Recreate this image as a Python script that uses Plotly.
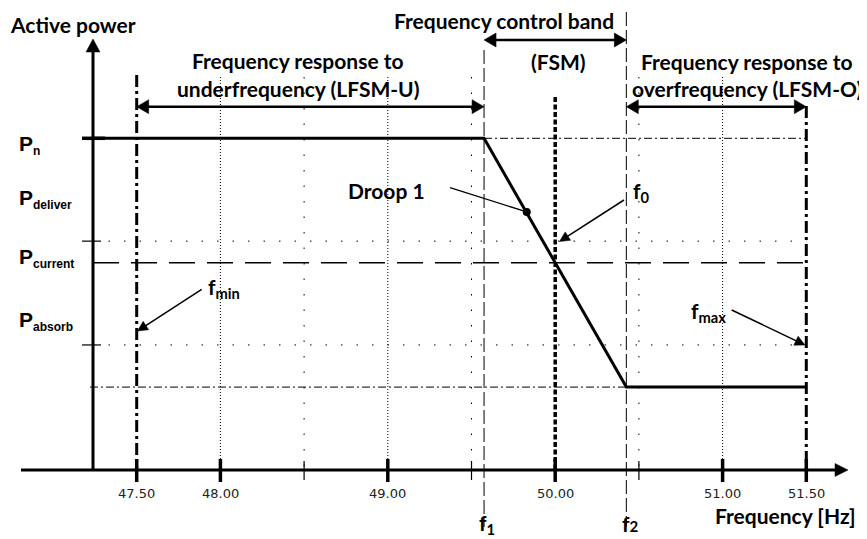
import math
import plotly.graph_objects as go

# ---------------- data ----------------
tick_freqs = [47.5, 48.0, 49.0, 50.0, 51.0, 51.5]
tick_labels = ["47.50", "48.00", "49.00", "50.00", "51.00", "51.50"]
minor_tick_freqs = [48.5, 49.5, 50.5]
dense_grid_freqs = [48.0, 49.0, 51.0]
sparse_grid_freqs = [48.5, 49.5, 50.5]

f_min = 47.5
f_1 = 49.575
f_0 = 50.0
f_2 = 50.425
f_max = 51.5

P_n = 100.0
P_deliver = 69.0
P_current = 62.5
P_absorb = 37.7
P_min = 25.0

curve_freq = [47.24, f_1, f_2, f_max]
curve_power = [P_n, P_n, P_min, P_min]

droop_freq = [49.83]
droop_power = [77.8]

# ---------------- page / pixel mapping ----------------
PAGE_W, PAGE_H = 867, 539
OFF = 8                                # default body margin of the html page
W, H = PAGE_W - OFF, PAGE_H - OFF
X0_PX, X_SCALE = 136.7, 167.4          # page px of 47.5 Hz, px per Hz
Y0_PX, Y_SCALE = 470.0, 3.317          # page px of P=0, px per unit


def fx(px):
    return 47.5 + (px - X0_PX) / X_SCALE


def py(px):
    return (Y0_PX - px) / Y_SCALE


def pxf(f):
    return X0_PX + (f - 47.5) * X_SCALE


def pyp(p):
    return Y0_PX - p * Y_SCALE


x_range = [fx(OFF), fx(PAGE_W)]
y_range = [py(PAGE_H), py(OFF)]
axis_f = fx(93)

fig = go.Figure()
shapes = []
annots = []


def line(x0, y0, x1, y1, width=1, dash="solid", color="black"):
    shapes.append(dict(type="line", xref="x", yref="y", x0=x0, y0=y0, x1=x1, y1=y1,
                       line=dict(color=color, width=width, dash=dash), layer="above"))


def head(tip_f, tip_p, from_f, from_p, length=12, half=6.5):
    """filled triangular arrow head; returns data point of its base centre"""
    tx, ty = pxf(tip_f), pyp(tip_p)
    fx_, fy_ = pxf(from_f), pyp(from_p)
    dx, dy = tx - fx_, ty - fy_
    n = math.hypot(dx, dy)
    ux, uy = dx / n, dy / n
    bx, by = tx - ux * length, ty - uy * length
    p1 = (bx - uy * half, by + ux * half)
    p2 = (bx + uy * half, by - ux * half)
    path = "M {},{} L {},{} L {},{} Z".format(
        tip_f, tip_p, fx(p1[0]), py(p1[1]), fx(p2[0]), py(p2[1]))
    shapes.append(dict(type="path", xref="x", yref="y", path=path,
                       fillcolor="black", line=dict(color="black", width=0.5),
                       layer="above"))
    return fx(bx + ux * 1.5), py(by + uy * 1.5)


def arrow(tip_f, tip_p, tail_f, tail_p, width=1.5, length=10, half=5):
    bf, bp = head(tip_f, tip_p, tail_f, tail_p, length, half)
    line(tail_f, tail_p, bf, bp, width=width)


def double_arrow(f_a, f_b, p, width=2.5, length=12, half=7):
    a = head(f_a, p, f_b, p, length, half)
    b = head(f_b, p, f_a, p, length, half)
    line(a[0], p, b[0], p, width=width)


CAL = "Lato"
ARL = "Liberation Sans"


def text(x, y, s, size=21, family=CAL, xanchor="center", yanchor="middle",
         color="black", weight="bold"):
    annots.append(dict(x=x, y=y, xref="x", yref="y", text=s, showarrow=False,
                       xanchor=xanchor, yanchor=yanchor,
                       font=dict(family=family, size=size, color=color, weight=weight)))


grid_top = py(77)

# dotted vertical grid
for f in dense_grid_freqs:
    line(f, grid_top, f, 0, width=1, dash="1px,2px")
for f in sparse_grid_freqs:
    line(f, grid_top, f, 0, width=1, dash="1.5px,14px")

# horizontal reference lines
line(axis_f, P_deliver, f_max, P_deliver, width=1, dash="1.5px,14px")
line(axis_f, P_absorb, f_max, P_absorb, width=1, dash="1.5px,14px")
line(axis_f, P_current, f_max, P_current, width=1.5, dash="26px,12px")
line(f_1, P_n, f_max, P_n, width=1, dash="8px,3px,2px,3px")
line(fx(90), P_min, f_2, P_min, width=1, dash="8px,3px,2px,3px")

# f1 / f2 thin long-dash verticals
line(f_1, py(50), f_1, py(527), width=1, dash="14px,4px")
line(f_2, py(12), f_2, py(527), width=1, dash="14px,4px")

# f_min / f_max heavy dash-dot, f0 heavy dotted
line(f_min, py(75), f_min, 0, width=3, dash="12px,4px,3px,4px")
line(f_max, py(106), f_max, 0, width=3, dash="12px,4px,3px,4px")
line(f_0, py(97), f_0, 0, width=3.5, dash="5px,2.5px")

# y-axis ticks
line(fx(82), P_n, fx(105), P_n, width=3.5)
line(fx(82), P_deliver, fx(101), P_deliver, width=1.2)
line(fx(82), P_absorb, fx(101), P_absorb, width=1.2)

# x-axis ticks
for f in tick_freqs:
    line(f, py(459), f, py(482), width=3.5)
for f in minor_tick_freqs:
    line(f, py(461), f, py(480), width=1.2)

# axes with arrows
arrow(fx(848), 0, fx(21), 0, width=3, length=13, half=6.5)
arrow(axis_f, py(39), axis_f, 0, width=3, length=13, half=7)

# characteristic curve
fig.add_trace(go.Scatter(x=curve_freq, y=curve_power, mode="lines",
                         line=dict(color="black", width=3), hoverinfo="skip",
                         showlegend=False))
fig.add_trace(go.Scatter(x=droop_freq, y=droop_power, mode="markers",
                         marker=dict(color="black", size=8), hoverinfo="skip",
                         showlegend=False))

# double arrows for bands
double_arrow(f_min, f_1, py(106.7))
double_arrow(f_1, f_2, py(40))
double_arrow(f_2, f_max, py(106.7))

# pointer arrows
line(fx(450), py(187.7), droop_freq[0], droop_power[0], width=1.3)
arrow(fx(559.5), py(241.5), fx(624), py(200), width=1.5)
arrow(fx(137.5), py(331), fx(201.7), py(289.3), width=1.5)
arrow(fx(805), py(345), fx(731.7), py(310), width=1.5)

# ---------------- texts ----------------
text(fx(73), py(24), "Active power")
text(fx(504), py(20), "Frequency control band")
text(fx(558), py(61), "(FSM)")
text(fx(298), py(60), "Frequency response to")
text(fx(298), py(88), "underfrequency (LFSM-U)")
text(fx(747), py(61), "Frequency response to")
text(fx(747), py(88), "overfrequency (LFSM-O)")
text(fx(386), py(190), "Droop 1")
text(fx(785.5), py(515), "Frequency [Hz]")

text(fx(631), py(192), "f<sub>0</sub>", xanchor="left")
text(fx(206), py(288), "f<sub>min</sub>", xanchor="left")
text(fx(689), py(312), "f<sub>max</sub>", xanchor="left")
text(fx(487), py(524), "f<sub>1</sub>")
text(fx(630), py(523), "f<span style='font-size:15px'>2</span>")

SUB = "P<sub><span style='font-size:12px'>{}</span></sub>"
text(fx(17), py(145), SUB.format("n"), size=21, family=ARL, xanchor="left")
text(fx(17), py(199), SUB.format("deliver"), size=21, family=ARL, xanchor="left")
text(fx(17), py(258), SUB.format("current"), size=21, family=ARL, xanchor="left")
text(fx(17), py(321), SUB.format("absorb"), size=21, family=ARL, xanchor="left")

for f, lab in zip(tick_freqs, tick_labels):
    text(f, py(493), lab, size=13, family="DejaVu Sans", color="#222222",
         weight="normal")

fig.update_layout(
    width=W, height=H,
    margin=dict(l=0, r=0, t=0, b=0),
    paper_bgcolor="white", plot_bgcolor="white",
    xaxis=dict(range=x_range, visible=False, fixedrange=True),
    yaxis=dict(range=y_range, visible=False, fixedrange=True),
    shapes=shapes, annotations=annots, showlegend=False,
)

fig.write_html("out.html", config={"displayModeBar": False, "staticPlot": True})
